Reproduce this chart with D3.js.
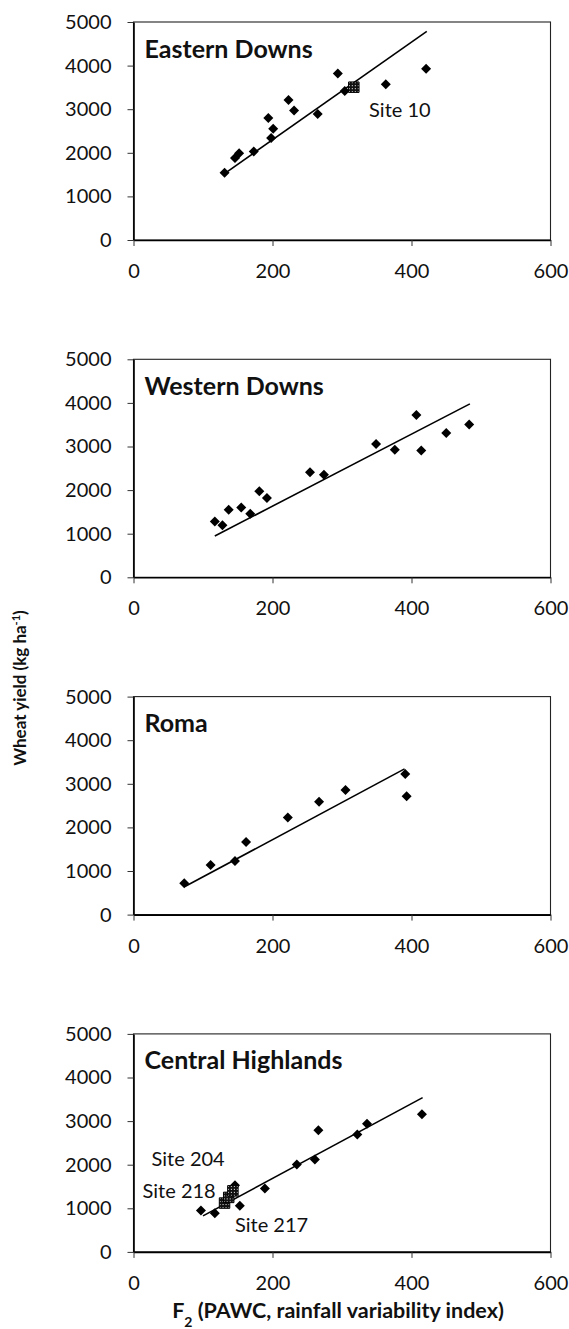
<!DOCTYPE html>
<html>
<head>
<meta charset="utf-8">
<script src="https://cdn.jsdelivr.net/npm/d3@7"></script>
<style>
  html, body { margin: 0; padding: 0; background: #fff; }
  svg { display: block; }
  text { font-family: Lato, "Open Sans", sans-serif; fill: #111; }
</style>
</head>
<body>
<svg id="chart" width="569" height="1329"></svg>
<script>
// Regions shown, one panel each
const regions = ["Eastern Downs", "Western Downs", "Roma", "Central Highlands"];

// Site values: F2 index (x) and wheat yield in kg/ha (y)
const easternX = [131, 146, 152, 173, 194, 198, 201, 223, 231, 265, 294, 304, 363, 421];
const easternY = [1540, 1880, 1990, 2030, 2800, 2340, 2550, 3210, 2970, 2890, 3820, 3420, 3570, 3930];
const westernX = [117, 128, 137, 155, 168, 181, 192, 254, 274, 349, 376, 407, 414, 450, 483];
const westernY = [1280, 1195, 1550, 1600, 1460, 1975, 1820, 2410, 2350, 3060, 2925, 3720, 2910, 3310, 3505];
const romaX = [73, 111, 146, 162, 222, 267, 305, 391, 393];
const romaY = [720, 1140, 1230, 1665, 2225, 2590, 2860, 3225, 2715];
const centralX = [97, 117, 146, 153, 189, 235, 261, 266, 322, 336, 415];
const centralY = [950, 885, 1530, 1060, 1455, 2005, 2120, 2790, 2690, 2940, 3155];

// Highlighted sites (square markers)
const eastSiteX = [317];
const eastSiteY = [3505];
const centralSiteX = [131, 137, 143];
const centralSiteY = [1120, 1250, 1400];

// Site label text and anchor positions in data units
const eastLabels = ["Site 10"];
const eastLabelX = [339];
const eastLabelY = [2820];
const centralLabels = ["Site 204", "Site 218", "Site 217"];
const centralLabelX = [26, 13, 146];
const centralLabelY = [1967, 1228, 464];

// Linear fits per region: slope, intercept and x extent
const fitSlope = [11.2, 8.26, 8.54, 8.58];
const fitIntercept = [57, -20, 11, -31];
const fitXMin = [131, 117, 74, 100];
const fitXMax = [422, 484, 390, 416];

// Axis ticks
const xTicks = [0, 200, 400, 600];
const yTicks = [0, 1000, 2000, 3000, 4000, 5000];

const panels = [
  { x: easternX, y: easternY, sx: eastSiteX, sy: eastSiteY, lt: eastLabels, lx: eastLabelX, ly: eastLabelY },
  { x: westernX, y: westernY, sx: [], sy: [], lt: [], lx: [], ly: [] },
  { x: romaX, y: romaY, sx: [], sy: [], lt: [], lx: [], ly: [] },
  { x: centralX, y: centralY, sx: centralSiteX, sy: centralSiteY, lt: centralLabels, lx: centralLabelX, ly: centralLabelY }
];

const svg = d3.select("#chart");

// Dotted fill for highlighted site markers
const defs = svg.append("defs");
const pat = defs.append("pattern").attr("id", "dots")
  .attr("width", 3).attr("height", 3).attr("patternUnits", "userSpaceOnUse");
pat.append("rect").attr("width", 3).attr("height", 3).attr("fill", "#111");
pat.append("rect").attr("x", 1).attr("y", 1).attr("width", 1).attr("height", 1).attr("fill", "#fff");

const left = 133.5, plotW = 417, plotH = 218, firstTop = 22, step = 337.3;

const x = d3.scaleLinear().domain([0, 600]).range([0, plotW]);
const y = d3.scaleLinear().domain([0, 5000]).range([plotH, 0]);

const diamond = d3.symbol().type(d3.symbolSquare).size(50);
const square = d3.symbol().type(d3.symbolSquare).size(110);

panels.forEach((p, i) => {
  const g = svg.append("g").attr("transform", `translate(${left},${firstTop + i * step})`);

  // frame
  g.append("rect").attr("width", plotW).attr("height", plotH)
    .attr("fill", "none").attr("stroke", "#222").attr("stroke-width", 1.1);

  const ya = d3.axisLeft(y).tickValues(yTicks).tickFormat(d3.format("d"))
    .tickSize(6).tickSizeOuter(0).tickPadding(16);
  const yg = g.append("g").call(ya);
  const xa = d3.axisBottom(x).tickValues(xTicks).tickFormat(d3.format("d"))
    .tickSize(6).tickSizeOuter(0).tickPadding(18);
  const xg = g.append("g").attr("transform", `translate(0,${plotH})`).call(xa);
  [yg, xg].forEach(a => {
    a.select(".domain").attr("stroke", "#000").attr("stroke-width", 1.6);
    a.selectAll(".tick line").attr("stroke", "#333").attr("stroke-width", 1);
    a.selectAll(".tick text").style("font-size", "20px").style("font-family", "Lato, sans-serif").attr("fill", "#111");
  });

  // regression line
  g.append("line")
    .attr("x1", x(fitXMin[i])).attr("y1", y(fitSlope[i] * fitXMin[i] + fitIntercept[i]))
    .attr("x2", x(fitXMax[i])).attr("y2", y(fitSlope[i] * fitXMax[i] + fitIntercept[i]))
    .attr("stroke", "#000").attr("stroke-width", 1.6);

  // site points
  g.selectAll("path.pt").data(d3.range(p.x.length)).join("path")
    .attr("class", "pt")
    .attr("d", diamond)
    .attr("transform", k => `translate(${x(p.x[k])},${y(p.y[k])}) rotate(45)`)
    .attr("fill", "#000");

  // highlighted sites
  g.selectAll("path.site").data(d3.range(p.sx.length)).join("path")
    .attr("class", "site")
    .attr("d", square)
    .attr("transform", k => `translate(${x(p.sx[k])},${y(p.sy[k])})`)
    .attr("fill", "url(#dots)").attr("stroke", "#000").attr("stroke-width", 1);

  // site labels
  g.selectAll("text.site").data(d3.range(p.lt.length)).join("text")
    .attr("class", "site")
    .attr("x", k => x(p.lx[k])).attr("y", k => y(p.ly[k]))
    .style("font-size", "20px")
    .text(k => p.lt[k]);

  // region title
  g.append("text").attr("x", 11).attr("y", 35.5)
    .style("font-size", "25px").style("font-weight", "bold")
    .text(regions[i]);
});

// y-axis title
const yt = svg.append("text")
  .attr("transform", "translate(26,688) rotate(-90)")
  .attr("text-anchor", "middle")
  .style("font-size", "17px").style("font-weight", "bold");
yt.append("tspan").text("Wheat yield (kg ha");
yt.append("tspan").attr("baseline-shift", "super").style("font-size", "11px").text("-1");
yt.append("tspan").text(")");

// x-axis title
const xt = svg.append("text")
  .attr("x", 338).attr("y", 1318)
  .attr("text-anchor", "middle")
  .style("font-size", "21.5px").style("font-weight", "bold");
xt.append("tspan").text("F");
xt.append("tspan").attr("baseline-shift", "sub").style("font-size", "14px").text("2");
xt.append("tspan").text(" (PAWC, rainfall variability index)");
</script>
</body>
</html>
